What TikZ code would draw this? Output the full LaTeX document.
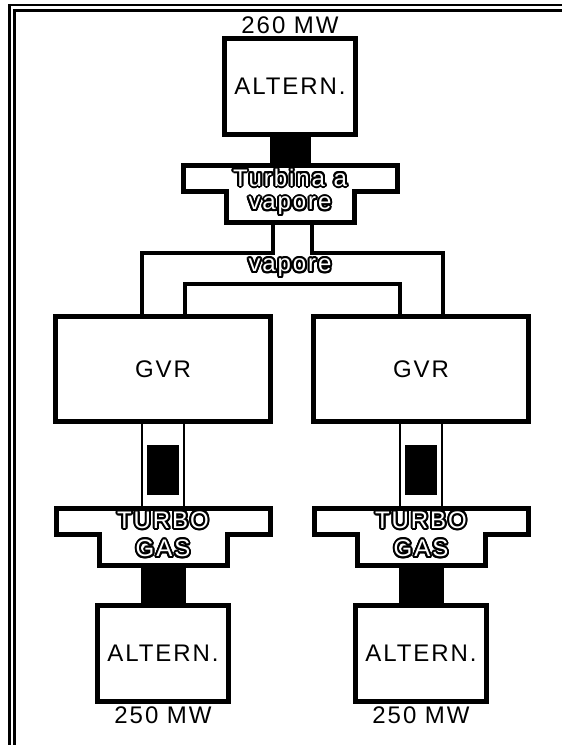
\documentclass[tikz,border=0pt]{standalone}
\usepackage{fontspec}
\setmainfont{Liberation Sans}[LetterSpace=8]
\usepackage{contour}
\contourlength{2pt}
\usetikzlibrary{positioning}
\newcommand{\halo}[1]{{\color{white}\contour{black}{#1}}}

\begin{document}
\begin{tikzpicture}[x=1pt, y=-1pt, inner sep=0pt, font=\fontsize{24}{27}\selectfont,
      box/.style={draw, line width=5pt, fill=white},
      alt/.style={box, minimum width=131pt, minimum height=96pt},
      gvr/.style={box, minimum width=215pt, minimum height=105pt},
      tbar/.style={outer sep=0pt, minimum width=214pt, minimum height=26pt},
      tfoot/.style={outer sep=0pt, minimum width=128pt, minimum height=31pt},
      wall/.style={line width=5pt},
      pipe/.style={line width=3.5pt},
      duct/.style={line width=1.6pt},
      shaft/.style={fill=black},
      block/.style={fill=black, minimum width=32pt, minimum height=50pt},
      frame/.style={line width=2.5pt}]
    \fill[white] (0,0) rectangle (562,745);
    \useasboundingbox (0,0) rectangle (562,745);
    \draw[frame] (562,5) -- (9.5,5) -- (9.5,745);
    \draw[frame] (562,10.5) -- (14.5,10.5) -- (14.5,745);

    \node[alt] (altTop) at (290,86) {ALTERN.};
    \node[above=2pt of altTop] (mwTop) {260 MW};
    \node[tbar, below=29pt of altTop] (turbBar) {\halo{Turbina a}};
    \node[tfoot, below=0pt of turbBar] (turbFoot) {\halo{vapore}};
    \node[below=36pt of turbFoot] (vap) {\halo{vapore}};

    \node[gvr] (gvrL) at (163,369) {GVR};
    \node[gvr, right=38pt of gvrL] (gvrR) {GVR};

    \node[block, below=21pt of gvrL] (blkL) {};
    \node[block, below=21pt of gvrR] (blkR) {};
    \node[tbar, below=84pt of gvrL] (tgBarL) {\halo{TURBO}};
    \node[tfoot, below=0pt of tgBarL] (tgFootL) {\halo{GAS}};
    \node[tbar, below=84pt of gvrR] (tgBarR) {\halo{TURBO}};
    \node[tfoot, below=0pt of tgBarR] (tgFootR) {\halo{GAS}};

    \node[alt, below=38pt of tgFootL] (altL) {ALTERN.};
    \node[alt, below=38pt of tgFootR] (altR) {ALTERN.};
    \node[below=3pt of altL] (mwL) {250 MW};
    \node[below=3pt of altR] (mwR) {250 MW};

    \foreach \b/\f in {turbBar/turbFoot, tgBarL/tgFootL, tgBarR/tgFootR}
      \draw[wall] (\b.north west) -- (\b.north east) -- (\b.south east) -- (\f.north east)
        -- (\f.south east) -- (\f.south west) -- (\f.north west) -- (\b.south west) -- cycle;

    \fill[shaft] ([xshift=-20pt]altTop.south) rectangle ([xshift=21pt]turbBar.north);
    \fill[shaft] ([xshift=-22pt]tgFootL.south) rectangle ([xshift=23pt]altL.north);
    \fill[shaft] ([xshift=-22pt]tgFootR.south) rectangle ([xshift=23pt]altR.north);

    \draw[pipe] ([xshift=-17pt]turbFoot.south) -- ++(0,30.5) -| ([xshift=-21pt]gvrL.north);
    \draw[pipe] ([xshift=22pt]turbFoot.south) -- ++(0,30.5) -| ([xshift=22pt]gvrR.north);
    \draw[pipe] ([xshift=22pt]gvrL.north) -- ++(0,-30) -| ([xshift=-21pt]gvrR.north);

    \draw[duct] ([xshift=-21pt]gvrL.south) -- ([xshift=-21pt]tgBarL.north);
    \draw[duct] ([xshift=21pt]gvrL.south) -- ([xshift=21pt]tgBarL.north);
    \draw[duct] ([xshift=-21pt]gvrR.south) -- ([xshift=-21pt]tgBarR.north);
    \draw[duct] ([xshift=21pt]gvrR.south) -- ([xshift=21pt]tgBarR.north);
  \end{tikzpicture}
\end{document}
